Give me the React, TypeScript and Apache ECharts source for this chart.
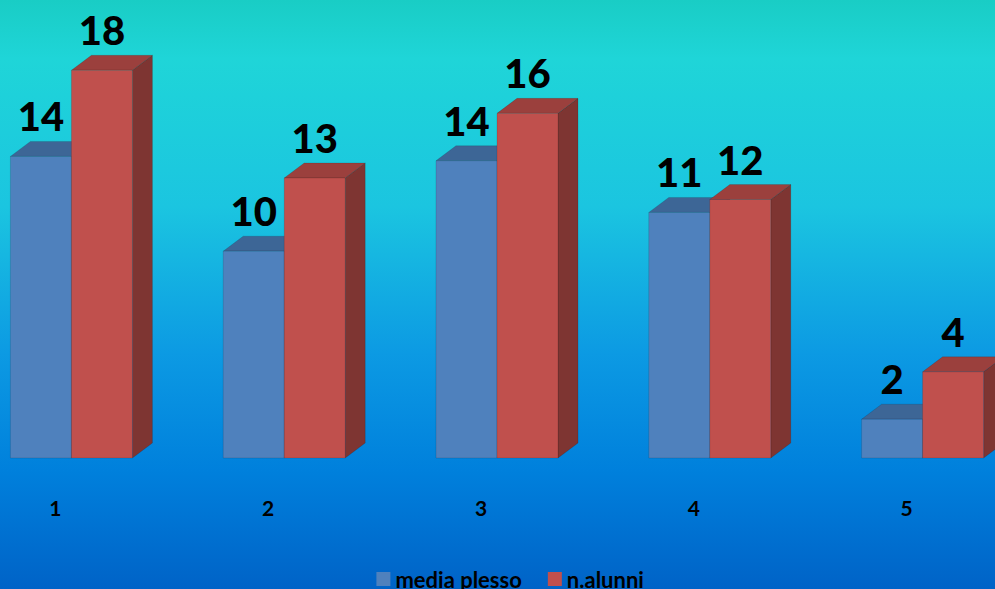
import React, { useEffect, useRef } from "react";
import * as echarts from "echarts";

const categories = ["1", "2", "3", "4", "5"];
const mediaPlesso = [14.0, 9.6, 13.8, 11.4, 1.8];
const nAlunni = [18, 13, 16, 12, 4];
const seriesNames = ["media plesso", "n.alunni"];

const FONT = "Lato, 'Open Sans', sans-serif";

// the plot area extends beyond the visible window on both sides
const SHIFT_L = 51.4;
const SHIFT_R = 17.35;

type Palette = { front: string; top: string; side: string };
const bluePal: Palette = { front: "#4f81bd", top: "#3d6696", side: "#385d8a" };
const redPal: Palette = { front: "#c0504d", top: "#9b403d", side: "#7e3532" };

function makeRender(pal: Palette, offL: number, offR: number) {
  return (params: any, api: any) => {
    const idx = api.value(0);
    const v = api.value(1);
    const base = api.coord([idx, 0]);
    const top = api.coord([idx, v]);
    const bw = api.size([1, 0])[0];
    const c = base[0];
    const x0 = c + offL * bw;
    const x1 = c + offR * bw;
    const ty = top[1];
    const by = base[1];
    const dx = 20;
    const dy = -15;
    const edge = "rgba(0,0,0,0.12)";
    return {
      type: "group",
      children: [
        {
          type: "polygon",
          shape: { points: [[x1, ty], [x1 + dx, ty + dy], [x1 + dx, by + dy], [x1, by]] },
          style: { fill: pal.side, stroke: edge, lineWidth: 1 },
        },
        {
          type: "polygon",
          shape: { points: [[x0, ty], [x1, ty], [x1 + dx, ty + dy], [x0 + dx, ty + dy]] },
          style: { fill: pal.top, stroke: edge, lineWidth: 1 },
        },
        {
          type: "rect",
          shape: { x: x0, y: ty, width: x1 - x0, height: by - ty },
          style: { fill: pal.front, stroke: edge, lineWidth: 1 },
        },
        {
          type: "text",
          x: (x0 + x1) / 2,
          y: ty - 40,
          style: {
            text: String(Math.round(v)),
            fill: "#000",
            font: `900 40px ${FONT}`,
            align: "center",
            verticalAlign: "middle",
          },
        },
      ],
    };
  };
}

export default function App() {
  const ref = useRef<HTMLDivElement>(null);
  useEffect(() => {
    if (!ref.current) return;
    const chart = echarts.init(ref.current, null, { renderer: "svg" });
    const bw = 212.75;
    chart.setOption({
      animation: false,
      backgroundColor: new echarts.graphic.LinearGradient(0, 0, 0, 1, [
        { offset: 0, color: "#19cdc5" },
        { offset: 0.1, color: "#1fd5d8" },
        { offset: 0.35, color: "#1bc5e0" },
        { offset: 0.6, color: "#0c9ae3" },
        { offset: 0.8, color: "#0080dc" },
        { offset: 1, color: "#0063c7" },
      ]),
      grid: { left: 0, right: 0, top: 27.2, bottom: 131 },
      legend: {
        left: 376 + SHIFT_L,
        top: 568,
        padding: 0,
        itemWidth: 14,
        itemHeight: 14,
        itemGap: 26,
        icon: "rect",
        data: seriesNames,
        textStyle: { color: "#000", fontWeight: "bold", fontSize: 22, fontFamily: FONT },
      },
      xAxis: {
        type: "category",
        data: categories,
        axisLine: { show: false },
        axisTick: { show: false },
        axisLabel: {
          margin: 39,
          color: "#000",
          fontWeight: "bold",
          fontSize: 21,
          fontFamily: FONT,
        },
      },
      yAxis: {
        type: "value",
        min: 0,
        max: 20,
        show: false,
        splitLine: { show: false },
      },
      series: [
        {
          name: seriesNames[0],
          type: "custom",
          itemStyle: { color: bluePal.front },
          renderItem: makeRender(bluePal, -45 / bw, 16 / bw),
          encode: { x: 0, y: 1 },
          data: mediaPlesso.map((v, i) => [i, v]),
          clip: false,
          z: 2,
        },
        {
          name: seriesNames[1],
          type: "custom",
          itemStyle: { color: redPal.front },
          renderItem: makeRender(redPal, 16 / bw, 77 / bw),
          encode: { x: 0, y: 1 },
          data: nAlunni.map((v, i) => [i, v]),
          clip: false,
          z: 3,
        },
      ],
    });
    return () => chart.dispose();
  }, []);
  return (
    <div style={{ position: "fixed", left: 0, top: 0, width: 995, height: 589, overflow: "hidden" }}>
      <div
        ref={ref}
        style={{
          position: "absolute",
          left: -SHIFT_L,
          top: 0,
          width: 995 + SHIFT_L + SHIFT_R,
          height: 589,
        }}
      />
    </div>
  );
}
